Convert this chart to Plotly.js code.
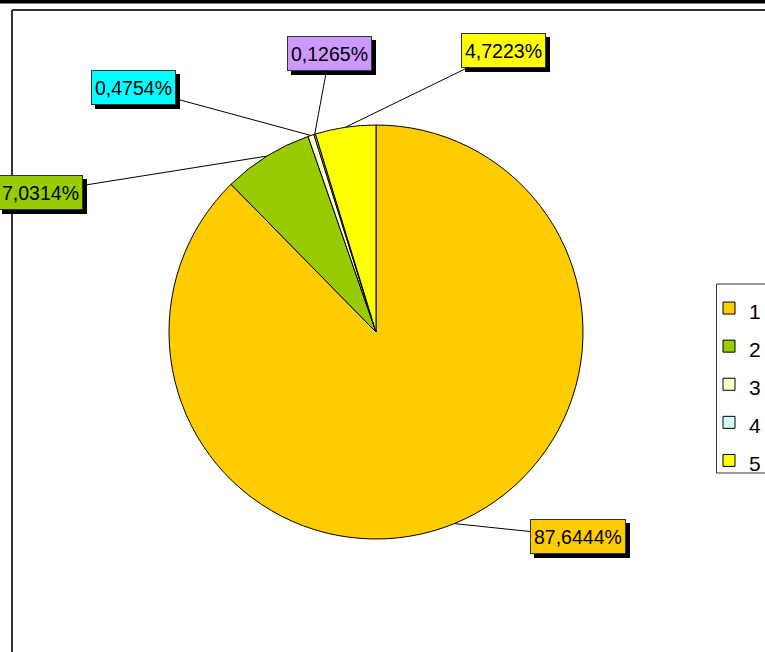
<!DOCTYPE html>
<html>
<head>
<meta charset="utf-8">
<script src="https://cdn.plot.ly/plotly-3.0.1.min.js"></script>
<style>html,body{margin:0;padding:0;background:#fff;}#chart{width:765px;height:652px;}</style>
</head>
<body>
<div id="chart"></div>
<script>
// ---- data ----
var categories = ['1', '2', '3', '4', '5'];
var shares = [87.6444, 7.0314, 0.4754, 0.1265, 4.7223];
var labelTexts = ['87,6444%', '7,0314%', '0,4754%', '0,1265%', '4,7223%'];

// ---- style ----
var W = 765, H = 652;
var sliceColors = ['#FFCC00', '#99CC00', '#FFFFCC', '#CCFFFF', '#FFFF00'];
var boxColors = ['#FFCC00', '#99CC00', '#00FFFF', '#CC99FF', '#FFFF00'];
var labelOffX = [124, -226, -177, 15, 158];
var labelOffY = [13, 36, -48, -81, -77];
var domX = [169 / W, 583 / W];
var domY = [1 - 539 / H, 1 - 125 / H];
var FONT = 'Arial, "Liberation Sans", sans-serif';

// pie geometry (from domain), used to anchor leader lines at slice mid-angles
var cx = (domX[0] + domX[1]) / 2 * W;
var cy = (1 - (domY[0] + domY[1]) / 2) * H;
var R = Math.min((domX[1] - domX[0]) * W, (domY[1] - domY[0]) * H) / 2;
var total = shares.reduce(function (a, b) { return a + b; }, 0);

var annotations = [];
var cum = 0;
for (var i = 0; i < shares.length; i++) {
  var mid = (cum + shares[i] / 2) / total * 2 * Math.PI;
  cum += shares[i];
  var px = cx + R * Math.sin(mid);
  var py = cy - R * Math.cos(mid);
  var base = {
    x: px / W, y: 1 - py / H, xref: 'paper', yref: 'paper',
    text: labelTexts[i], showarrow: true, axref: 'pixel', ayref: 'pixel',
    ax: labelOffX[i], ay: labelOffY[i], arrowhead: 0, standoff: 0,
    font: {family: FONT, size: 19.5, color: '#000'},
    height: 27, borderpad: 3, borderwidth: 1
  };
  // shadow
  annotations.push(Object.assign({}, base, {
    bgcolor: '#000', bordercolor: '#000', xshift: 4, yshift: -4,
    arrowcolor: 'rgba(0,0,0,0)', arrowwidth: 0.1
  }));
  annotations.push(Object.assign({}, base, {
    bgcolor: boxColors[i], bordercolor: '#333', arrowcolor: '#000', arrowwidth: 1
  }));
}

function line(x0, y0, x1, y1, color, width) {
  return {type: 'line', xref: 'paper', yref: 'paper', x0: x0 / W, x1: x1 / W,
    y0: 1 - y0 / H, y1: 1 - y1 / H, line: {color: color, width: width}};
}
var shapes = [
  {type: 'rect', xref: 'paper', yref: 'paper', x0: 0, x1: 1, y0: 1 - 3.5 / H, y1: 1,
    fillcolor: '#000', line: {width: 0}},
  line(12, 10, W, 10, '#333', 2),
  line(12, 10, 12, H, '#333', 2),
  // legend frame
  {type: 'rect', xref: 'paper', yref: 'paper', x0: 716.5 / W, x1: 800 / W,
    y0: 1 - 473 / H, y1: 1 - 284 / H, fillcolor: '#fff', line: {color: '#333', width: 1}}
];

var legendLabels = categories.map(function (c) {
  return '<span style="font-size:21px">' + c + '</span>';
});

var trace = {
  type: 'pie',
  labels: legendLabels,
  values: shares,
  sort: false,
  direction: 'clockwise',
  rotation: 0,
  textinfo: 'none',
  hoverinfo: 'none',
  marker: {colors: sliceColors, line: {color: '#000', width: 1}},
  domain: {x: domX, y: domY}
};

var layout = {
  width: W, height: H,
  margin: {l: 0, r: 0, t: 0, b: 0, autoexpand: false},
  paper_bgcolor: '#fff',
  showlegend: true,
  legend: {
    x: 709 / W, xanchor: 'left', y: 1 - 284 / H, yanchor: 'top',
    bgcolor: 'rgba(0,0,0,0)', borderwidth: 0,
    font: {family: FONT, size: 27, color: '#000'}
  },
  annotations: annotations,
  shapes: shapes
};

Plotly.newPlot('chart', [trace], layout, {staticPlot: true});
</script>
</body>
</html>
